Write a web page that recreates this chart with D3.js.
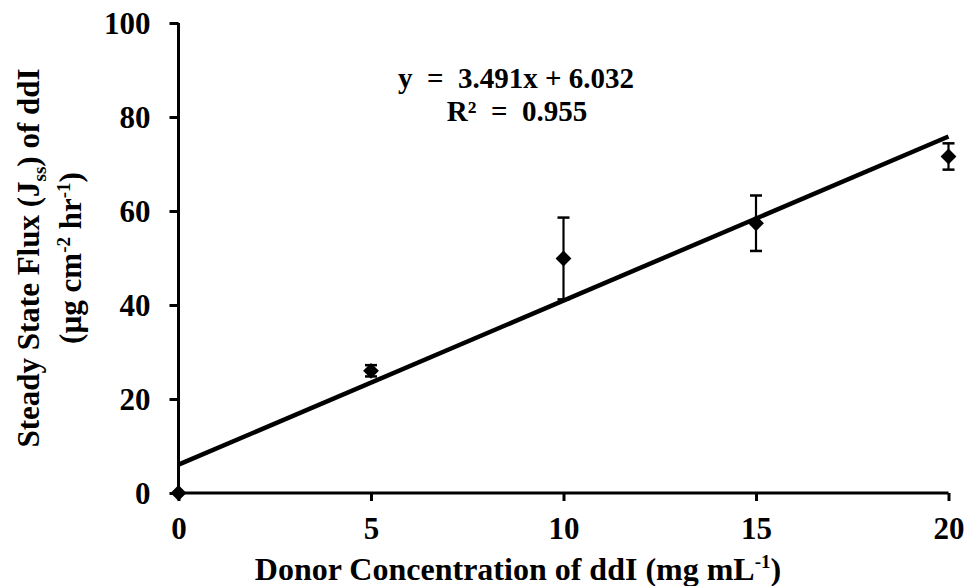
<!DOCTYPE html>
<html>
<head>
<meta charset="utf-8">
<script src="https://cdn.jsdelivr.net/npm/d3@7/dist/d3.min.js"></script>
<style>
  html, body { margin: 0; padding: 0; background: #fff; }
  svg text { font-family: "Liberation Serif", "Times New Roman", serif; font-weight: bold; fill: #000; }
</style>
</head>
<body>
<svg id="chart" width="968" height="586"></svg>
<script>
// Donor concentration (mg/mL) vs steady state flux of ddI
const concentrations = [0, 5, 10, 15, 20];
const fluxMeans = [0, 26, 49.9, 57.4, 71.6];
const fluxErrors = [0, 1.2, 8.7, 5.9, 2.8];
const xTicks = [0, 5, 10, 15, 20];
const yTicks = [0, 20, 40, 60, 80, 100];
const slope = 3.491;
const intercept = 6.032;
const rSquared = 0.955;

const svg = d3.select("#chart");
const x = d3.scaleLinear().domain([0, 20]).range([178.5, 948.5]);
const y = d3.scaleLinear().domain([0, 100]).range([493, 23]);

// axes
const yAxis = d3.axisLeft(y).tickValues(yTicks).tickSize(9).tickPadding(19).tickFormat(d3.format("d"));
const xAxis = d3.axisBottom(x).tickValues(xTicks).tickSize(8).tickPadding(16).tickFormat(d3.format("d"));

const gy = svg.append("g").attr("transform", `translate(${x(0)},0)`).call(yAxis);
const gx = svg.append("g").attr("transform", `translate(0,${y(0)})`).call(xAxis);
[gx, gy].forEach(g => {
  g.select(".domain").attr("stroke", "#000").attr("stroke-width", 3);
  g.selectAll(".tick line").attr("stroke", "#000").attr("stroke-width", 3);
  g.selectAll(".tick text").style("font-size", "31px").attr("fill", "#000");
});
gy.select(".domain").attr("d", `M0,${y(100)}V${y(0)}`);
gx.select(".domain").attr("d", `M${x(0)},0H${x(20)}`);
gy.selectAll(".tick text").attr("dy", "0.34em");
gx.selectAll(".tick text").attr("dy", "0.7em");

// regression line
svg.append("line")
  .attr("x1", x(0)).attr("y1", y(intercept))
  .attr("x2", x(20)).attr("y2", y(slope * 20 + intercept))
  .attr("stroke", "#000").attr("stroke-width", 4.5);

// error bars
const pts = concentrations.map((c, i) => ({ c, m: fluxMeans[i], e: fluxErrors[i] }));
const eb = svg.append("g").selectAll("g").data(pts.filter(d => d.e > 0)).join("g");
eb.append("line")
  .attr("x1", d => x(d.c)).attr("x2", d => x(d.c))
  .attr("y1", d => y(d.m + d.e)).attr("y2", d => y(d.m - d.e))
  .attr("stroke", "#000").attr("stroke-width", 2.2);
eb.selectAll(".cap").data(d => [d.m + d.e, d.m - d.e].map(v => ({ c: d.c, v }))).join("line")
  .attr("x1", d => x(d.c) - 6).attr("x2", d => x(d.c) + 6)
  .attr("y1", d => y(d.v)).attr("y2", d => y(d.v))
  .attr("stroke", "#000").attr("stroke-width", 2.5);

// diamond markers
svg.append("g").selectAll("path").data(pts).join("path")
  .attr("transform", d => `translate(${x(d.c)},${y(d.m)}) rotate(45)`)
  .attr("d", d3.symbol().type(d3.symbolSquare).size(125))
  .attr("fill", "#000");

// equation labels
const eq = svg.append("g").attr("text-anchor", "middle").style("font-size", "29px");
eq.append("text").attr("x", 516).attr("y", 88).attr("xml:space", "preserve")
  .text(`y  =  ${slope}x + ${intercept}`);
eq.append("text").attr("x", 517).attr("y", 121).attr("xml:space", "preserve")
  .text(`R²  =  ${rSquared}`);

// x axis title
const xt = svg.append("text").attr("x", 518).attr("y", 580).attr("text-anchor", "middle").style("font-size", "32px");
xt.append("tspan").text("Donor Concentration of ddI (mg mL");
xt.append("tspan").attr("dy", -12).style("font-size", "19px").text("-1");
xt.append("tspan").attr("dy", 12).text(")");

// y axis title (two lines)
const yt = svg.append("g").attr("transform", "translate(0,258) rotate(-90)").attr("text-anchor", "middle").style("font-size", "31px");
const l1 = yt.append("text").attr("x", 0).attr("y", 39);
l1.append("tspan").text("Steady State Flux (J");
l1.append("tspan").attr("dy", 7).style("font-size", "19px").text("ss");
l1.append("tspan").attr("dy", -7).text(") of ddI");
const l2 = yt.append("text").attr("x", 0).attr("y", 81);
l2.append("tspan").text("(µg cm");
l2.append("tspan").attr("dy", -11).style("font-size", "19px").text("-2");
l2.append("tspan").attr("dy", 11).text(" hr");
l2.append("tspan").attr("dy", -11).style("font-size", "19px").text("-1");
l2.append("tspan").attr("dy", 11).text(")");
</script>
</body>
</html>
